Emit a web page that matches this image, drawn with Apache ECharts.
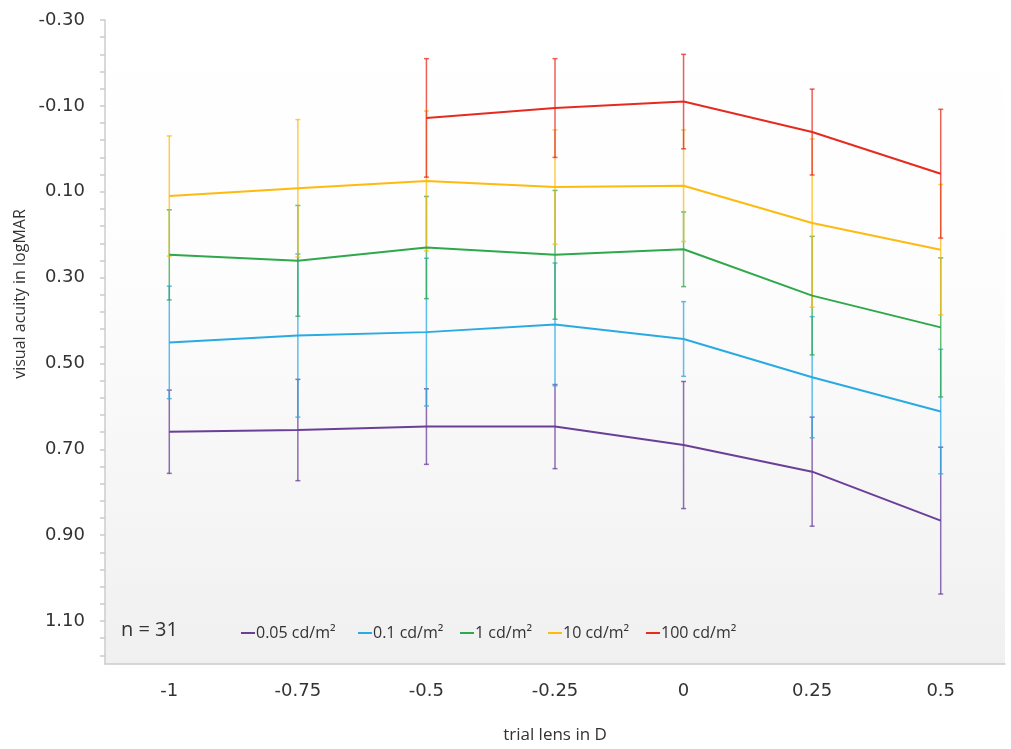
<!DOCTYPE html>
<html>
<head>
<meta charset="utf-8">
<script src="https://cdn.jsdelivr.net/npm/echarts@6/dist/echarts.min.js"></script>
<style>
html,body{margin:0;padding:0;background:#fff;}
#chart{width:1011px;height:749px;}
</style>
</head>
<body>
<div id="chart"></div>
<script>
// ---- data ----
var categories = ['-1', '-0.75', '-0.5', '-0.25', '0', '0.25', '0.5'];
var seriesNames = ['0.05 cd/m²', '0.1 cd/m²', '1 cd/m²', '10 cd/m²', '100 cd/m²'];
var mean005 = [0.659, 0.655, 0.647, 0.647, 0.690, 0.752, 0.866];
var sd005   = [0.097, 0.118, 0.088, 0.098, 0.148, 0.127, 0.171];
var mean01  = [0.451, 0.435, 0.427, 0.409, 0.443, 0.532, 0.612];
var sd01    = [0.131, 0.190, 0.172, 0.143, 0.087, 0.141, 0.145];
var mean1   = [0.247, 0.261, 0.230, 0.247, 0.234, 0.342, 0.416];
var sd1     = [0.105, 0.129, 0.119, 0.150, 0.087, 0.138, 0.162];
var mean10  = [0.110, 0.092, 0.075, 0.089, 0.086, 0.173, 0.235];
var sd10    = [0.140, 0.160, 0.163, 0.133, 0.130, 0.196, 0.152];
var mean100 = [null, null, -0.072, -0.095, -0.110, -0.039, 0.058];
var sd100   = [null, null, 0.138, 0.115, 0.110, 0.100, 0.150];
var yTickLabels = ['-0.30', '-0.10', '0.10', '0.30', '0.50', '0.70', '0.90', '1.10'];
var sampleNote = 'n = 31';

// ---- styling ----
var colors = ['#6a3f98', '#2aaae3', '#2ea84b', '#fdbb10', '#e52b1f'];
var means = [mean005, mean01, mean1, mean10, mean100];
var sds = [sd005, sd01, sd1, sd10, sd100];
var legendLeft = [241, 358, 460, 548, 646];
var FONT = 'Open Sans';
var NUMFONT = 'DejaVu Sans';

var chart = echarts.init(document.getElementById('chart'));

var series = [];
means.forEach(function (m, si) {
  var errData = [];
  m.forEach(function (v, i) {
    if (v !== null && sds[si][i] !== null) errData.push([i, v, sds[si][i]]);
  });
  series.push({
    name: 'err_' + si,
    type: 'custom',
    z: 1,
    silent: true,
    data: errData,
    encode: { x: 0, y: 1 },
    renderItem: function (params, api) {
      var i = api.value(0), v = api.value(1), s = api.value(2);
      var p1 = api.coord([i, v - s]);
      var p2 = api.coord([i, v + s]);
      var st = { stroke: colors[si], lineWidth: 1.5, opacity: 0.75 };
      var cw = 2.5;
      return {
        type: 'group',
        children: [
          { type: 'line', shape: { x1: p1[0], y1: p1[1], x2: p2[0], y2: p2[1] }, style: st },
          { type: 'line', shape: { x1: p1[0] - cw, y1: p1[1], x2: p1[0] + cw, y2: p1[1] }, style: st },
          { type: 'line', shape: { x1: p2[0] - cw, y1: p2[1], x2: p2[0] + cw, y2: p2[1] }, style: st }
        ]
      };
    }
  });
});
means.forEach(function (m, si) {
  series.push({
    name: seriesNames[si],
    type: 'line',
    z: 3 + si,
    data: m,
    showSymbol: false,
    symbol: 'none',
    connectNulls: false,
    color: colors[si],
    lineStyle: { width: 2, color: colors[si] }
  });
});

var legends = seriesNames.map(function (n, i) {
  return {
    data: [n],
    left: legendLeft[i],
    top: 625,
    padding: 0,
    icon: 'rect',
    itemWidth: 14,
    itemHeight: 2,
    selectedMode: false,
    textStyle: { fontFamily: FONT, fontSize: 16, color: '#333', padding: [0, 0, 0, -4] }
  };
});

var option = {
  animation: false,
  backgroundColor: '#ffffff',
  textStyle: { fontFamily: FONT },
  grid: {
    left: 105, right: 6, top: 20, bottom: 85,
    show: true,
    borderWidth: 0,
    backgroundColor: {
      type: 'linear', x: 0, y: 0, x2: 0, y2: 1,
      colorStops: [
        { offset: 0, color: '#ffffff' },
        { offset: 0.4, color: '#fdfdfd' },
        { offset: 1, color: '#f0f0f0' }
      ]
    }
  },
  legend: legends,
  xAxis: {
    type: 'category',
    position: 'bottom',
    data: categories,
    boundaryGap: true,
    axisLine: { onZero: false, lineStyle: { color: '#cccccc', width: 1.5 } },
    axisTick: { show: false },
    axisLabel: { color: '#333', fontSize: 18, margin: 18, fontFamily: NUMFONT },
    name: 'trial lens in D',
    nameLocation: 'middle',
    nameGap: 63,
    nameTextStyle: { color: '#333', fontSize: 17, fontFamily: FONT }
  },
  yAxis: {
    type: 'value',
    inverse: true,
    min: -0.3,
    max: 1.2,
    interval: 0.04,
    splitLine: { show: false },
    axisLine: { show: true, lineStyle: { color: '#cccccc', width: 1.5 } },
    axisTick: { show: true, length: 5, lineStyle: { color: '#cccccc', width: 1.5 } },
    axisLabel: {
      color: '#333', fontSize: 18, margin: 20, fontFamily: NUMFONT,
      showMaxLabel: false,
      formatter: function (v) {
        var k = (v + 0.3) / 0.2;
        var r = Math.round(k);
        if (Math.abs(k - r) < 1e-6 && r >= 0 && r < yTickLabels.length) return yTickLabels[r];
        return '';
      }
    }
  },
  graphic: [
    {
      type: 'text',
      x: 20, y: 294,
      rotation: Math.PI / 2,
      style: {
        text: 'visual acuity in logMAR',
        fill: '#333', font: '16px "' + FONT + '"',
        textAlign: 'center', textVerticalAlign: 'middle'
      }
    },
    {
      type: 'text',
      left: 121, top: 620,
      style: { text: sampleNote, fill: '#333', font: '20px "' + FONT + '"' }
    }
  ],
  series: series
};
chart.setOption(option);
</script>
</body>
</html>
